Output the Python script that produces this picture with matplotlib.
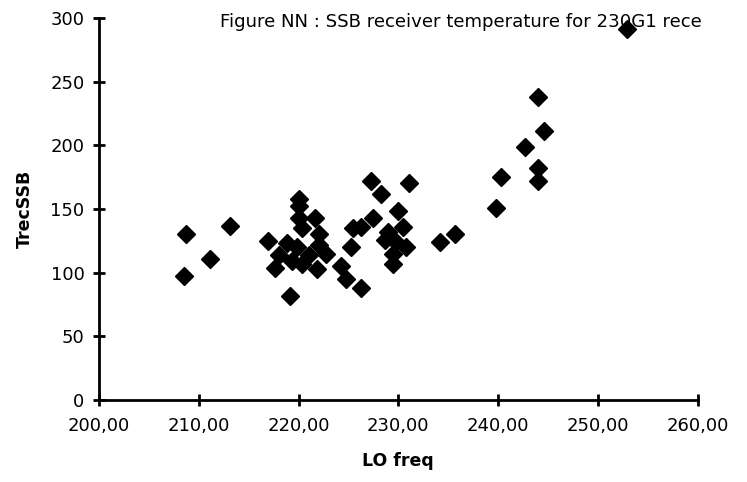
import matplotlib.pyplot as plt
from matplotlib.ticker import FuncFormatter

# LO frequency (GHz) and SSB receiver temperature
lo_freq = [208.5, 208.7, 211.1, 213.1, 216.9, 217.6, 218.0, 218.8, 219.1, 219.3,
           220.0, 220.0, 220.0, 221.6, 220.3, 222.0, 222.8, 221.0, 220.3, 221.8,
           219.8, 222.0, 224.3, 224.8, 225.3, 225.5, 226.3, 227.3, 228.3, 231.1,
           227.5, 230.0, 226.3, 230.5, 228.7, 229.8, 229.5, 229.5, 229.0, 230.8,
           234.2, 235.7, 239.8, 240.3, 242.7, 244.0, 244.6, 244.0, 244.0, 252.9]
trec_ssb = [97, 130, 111, 137, 125, 104, 114, 123, 82, 109,
            158, 152, 143, 143, 135, 130, 115, 114, 107, 103,
            120, 122, 105, 95, 120, 135, 88, 172, 162, 170,
            143, 148, 136, 136, 126, 124, 115, 107, 132, 120,
            124, 130, 151, 175, 199, 238, 211, 182, 172, 291]

xticks = [200, 210, 220, 230, 240, 250, 260]
yticks = [0, 50, 100, 150, 200, 250, 300]

# the scanned title runs off the right edge; keep the part that is visible
title = 'Figure NN : SSB receiver temperature for 230G1 rece'

plt.rcParams['font.family'] = ['DejaVu Sans']

fig = plt.figure(figsize=(7.47, 4.82), dpi=100)
ax = fig.add_axes([0.1325, 0.170, 0.8015, 0.793])

fig.text(220 / 747, 1 - 22 / 482, title, fontsize=13.1, va='center', ha='left')

ax.plot(lo_freq, trec_ssb, linestyle='none', marker='D', markersize=9.5,
        color='black', clip_on=False, zorder=5)

ax.set_xlim(200, 260)
ax.set_ylim(0, 300)
ax.set_xticks(xticks)
ax.set_yticks(yticks)
ax.xaxis.set_major_formatter(FuncFormatter(lambda v, p: ('%.2f' % v).replace('.', ',')))

for s in ['top', 'right']:
    ax.spines[s].set_visible(False)
for s in ['left', 'bottom']:
    ax.spines[s].set_linewidth(2)
    ax.spines[s].set_color('black')

ax.tick_params(direction='inout', length=9, width=2, labelsize=13, pad=6)
ax.tick_params(axis='x', pad=8)

ax.set_xlabel('LO freq', fontsize=12.5, fontweight='bold', labelpad=12)
ax.set_ylabel('TrecSSB', fontsize=12.5, fontweight='bold', labelpad=12)

fig.savefig('out.png', dpi=100)
